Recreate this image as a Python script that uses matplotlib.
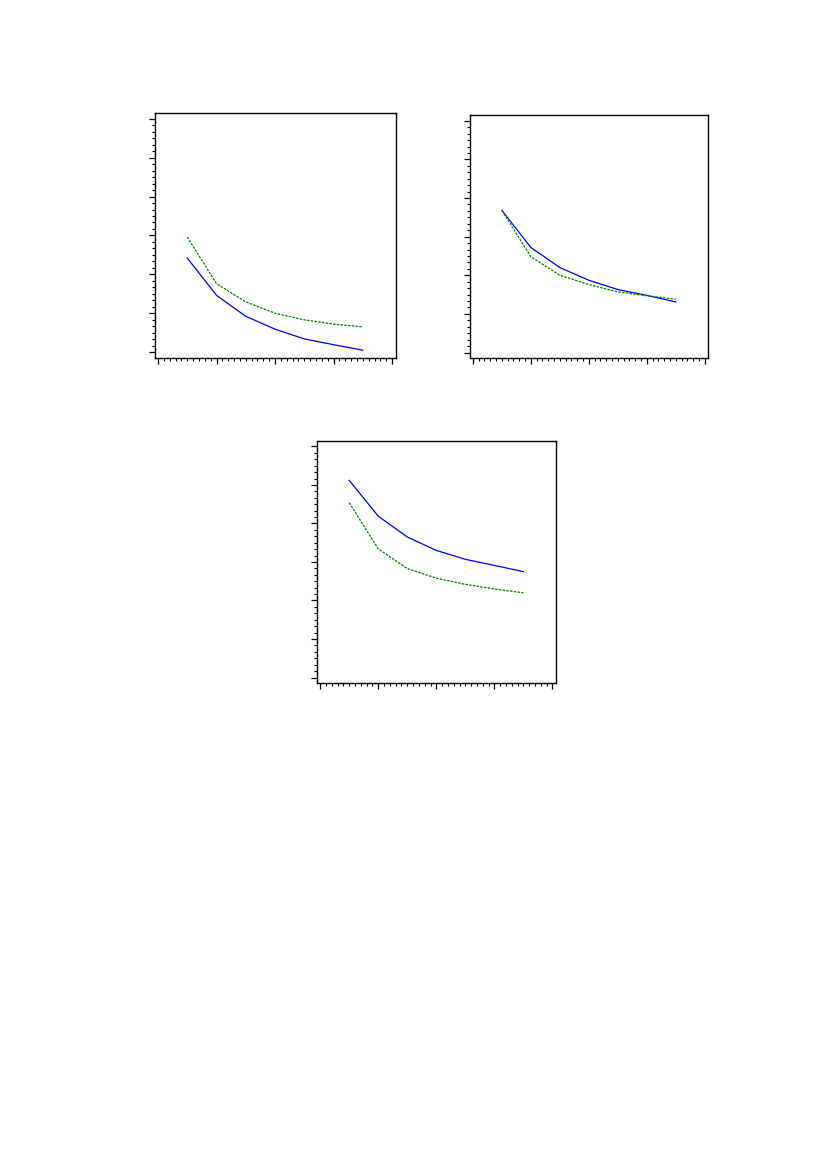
import matplotlib
matplotlib.use("Agg")
import matplotlib.pyplot as plt
from matplotlib.ticker import MultipleLocator

# x positions shared by all panels
steps = [1, 2, 3, 4, 5, 6, 7]

# panel 1 (top left)
p1_blue = [2.42, 1.46, 0.92, 0.59, 0.34, 0.19, 0.05]
p1_green = [2.96, 1.76, 1.29, 1.00, 0.83, 0.72, 0.65]

# panel 2 (top right)
p2_blue = [3.68, 2.72, 2.20, 1.87, 1.63, 1.48, 1.31]
p2_green = [3.68, 2.48, 2.00, 1.76, 1.57, 1.47, 1.38]

# panel 3 (middle)
p3_blue = [5.12, 4.19, 3.65, 3.30, 3.07, 2.91, 2.75]
p3_green = [4.54, 3.34, 2.83, 2.58, 2.42, 2.30, 2.20]

panels = [
    ([0.1877, 0.6938, 0.2913, 0.2096], p1_blue, p1_green),
    ([0.5690, 0.6935, 0.2885, 0.2081], p2_blue, p2_green),
    ([0.3841, 0.4155, 0.2890, 0.2075], p3_blue, p3_green),
]

fig = plt.figure(figsize=(8.26, 11.69), dpi=100)

for rect, blue, green in panels:
    ax = fig.add_axes(rect)
    ax.plot(steps, blue, color="#0000ff", lw=0.9, ls="-")
    ax.plot(steps, green, color="#008000", lw=0.9, ls=(0, (2, 1)))
    ax.set_xlim(-0.1, 8.12)
    ax.set_ylim(-0.15, 6.15)
    ax.xaxis.set_major_locator(MultipleLocator(2))
    ax.xaxis.set_minor_locator(MultipleLocator(0.2))
    ax.yaxis.set_major_locator(MultipleLocator(1))
    ax.yaxis.set_minor_locator(MultipleLocator(1 / 6))
    ax.tick_params(which="major", direction="out", length=4, width=0.9,
                   labelbottom=False, labelleft=False)
    ax.tick_params(which="minor", direction="out", length=2.2, width=0.8)
    for sp in ax.spines.values():
        sp.set_linewidth(1.0)

fig.savefig("out.png", dpi=100)
